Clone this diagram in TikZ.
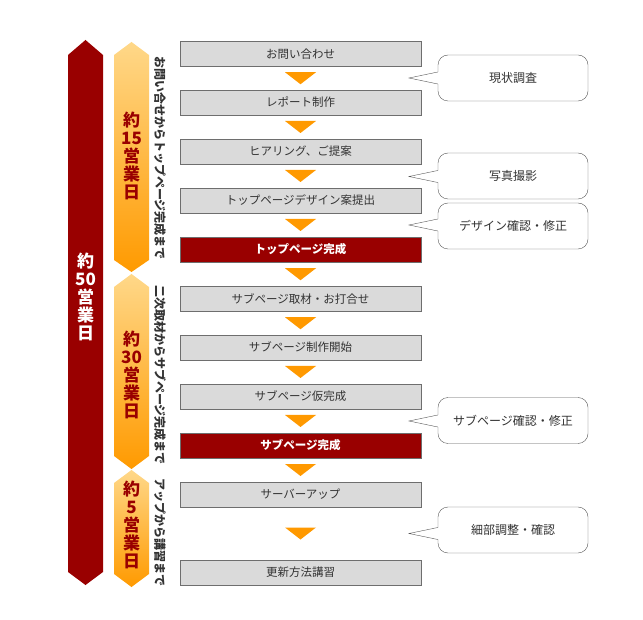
\documentclass[tikz,border=0pt]{standalone}
\usepackage{fontspec}
\setmainfont{Noto Sans CJK JP}
\usetikzlibrary{calc}

\definecolor{darkred}{HTML}{990000}
\definecolor{flowgray}{HTML}{DADADA}
\definecolor{flowline}{HTML}{6E6E6E}
\definecolor{flowtext}{HTML}{333333}
\definecolor{marker}{HTML}{FF9900}
\definecolor{barlight}{HTML}{FFD889}
\definecolor{bardark}{HTML}{FF9A00}

\tikzset{
  flowbox/.style={draw=flowline,fill=flowgray,minimum width=241pt,minimum height=25pt,inner sep=0pt,
    text=flowtext,font=\fontsize{11.5}{12}\selectfont},
  donebox/.style={flowbox,fill=darkred,text=white,font=\bfseries\fontsize{11.5}{12}\selectfont},
  callbox/.style={draw=flowline!80!black,fill=white,rounded corners=10pt,minimum width=150pt,
    minimum height=46pt,inner sep=0pt,text=flowtext,font=\fontsize{12}{13}\selectfont},
  daystack/.style={align=center,font=\bfseries\fontsize{17}{18}\selectfont},
  sidenote/.style={rotate=-90,text=flowtext,font=\bfseries\fontsize{12}{12}\selectfont,inner sep=0pt}
}

\begin{document}
\begin{tikzpicture}[x=1pt,y=-1pt]
\useasboundingbox (0,0) rectangle (643,620);

% left bars
\fill[darkred] (68,55) -- (85.5,40) -- (103,55) -- (103,572) -- (85.5,585) -- (68,572) -- cycle;
\shade[top color=barlight,bottom color=bardark] (114,55) -- (131.5,42) -- (149,55) -- (149,260) -- (131.5,272) -- (114,260) -- cycle;
\shade[top color=barlight,bottom color=bardark] (114,287) -- (131.5,274) -- (149,287) -- (149,456) -- (131.5,469) -- (114,456) -- cycle;
\shade[top color=barlight,bottom color=bardark] (114,483) -- (131.5,470) -- (149,483) -- (149,574) -- (131.5,587) -- (114,574) -- cycle;

\node[daystack,text=white] (total) at (85.5,297) {約\\50\\営\\業\\日};
\node[daystack,text=darkred] (p1) at (131.5,155.5) {約\\15\\営\\業\\日};
\node[daystack,text=darkred] (p2) at (131.5,375) {約\\30\\営\\業\\日};
\node[daystack,text=darkred] (p3) at (131.5,525) {約\\5\\営\\業\\日};

\node[sidenote] (n1) at (160,158) {お問い合せからトップページ完成まで};
\node[sidenote] (n2) at (160,375) {二次取材からサブページ完成まで};
\node[sidenote] (n3) at (160,532.5) {アップから講習まで};

% flow
\node[flowbox] (b1) at (300.5,54) {お問い合わせ};
\node[flowbox] (b2) at (300.5,102.5) {レポート制作};
\node[flowbox] (b3) at (300.5,151.5) {ヒアリング、ご提案};
\node[flowbox] (b4) at (300.5,200.5) {トップページデザイン案提出};
\node[donebox] (b5) at (300.5,249.5) {トップページ完成};
\node[flowbox] (b6) at (300.5,299) {サブページ取材・お打合せ};
\node[flowbox] (b7) at (300.5,347.5) {サブページ制作開始};
\node[flowbox] (b8) at (300.5,396.5) {サブページ仮完成};
\node[donebox] (b9) at (300.5,445.5) {サブページ完成};
\node[flowbox] (b10) at (300.5,494.5) {サーバーアップ};
\node[flowbox] (b11) at (300.5,572.5) {更新方法講習};

\foreach \a/\b in {b1/b2,b2/b3,b3/b4,b4/b5,b5/b6,b6/b7,b7/b8,b8/b9,b9/b10,b10/b11}
  \fill[marker] ($(\a.south)!0.5!(\b.north)+(-15.5,-6)$) -- ++(31,0) -- ++(-15.5,12) -- cycle;

% callouts
\coordinate (t1) at (409,78);
\coordinate (t2) at (409,176.5);
\coordinate (t3) at (409,225);
\coordinate (t4) at (409,421);
\coordinate (t5) at (409,533.5);

\node[callbox] (c1) at (513,78) {現状調査};
\node[callbox] (c2) at (513,176) {写真撮影};
\node[callbox] (c3) at (513,226) {デザイン確認・修正};
\node[callbox] (c4) at (513,420.5) {サブページ確認・修正};
\node[callbox] (c5) at (513,530) {細部調整・確認};

\foreach \k in {1,...,5} {
  \fill[white] (t\k) -- ($(c\k.west |- t\k)+(1.5,-6)$) -- ($(c\k.west |- t\k)+(1.5,6)$) -- cycle;
  \draw[flowline!80!black] ($(c\k.west |- t\k)+(0,-6)$) -- (t\k) -- ($(c\k.west |- t\k)+(0,6)$);
}
\end{tikzpicture}
\end{document}
